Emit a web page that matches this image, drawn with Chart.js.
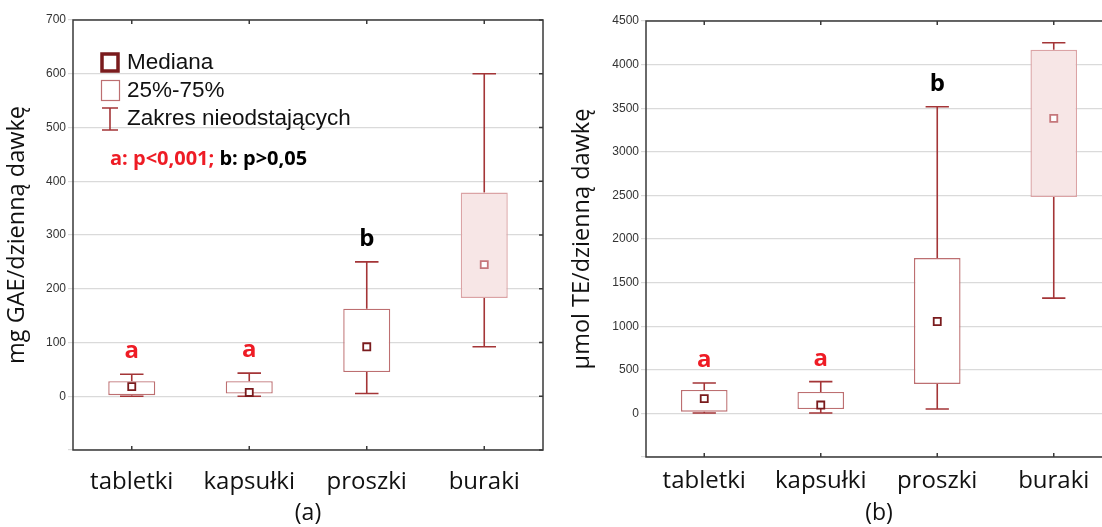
<!DOCTYPE html>
<html>
<head>
<meta charset="utf-8">
<script src="https://cdn.jsdelivr.net/npm/chart.js@4/dist/chart.umd.min.js"></script>
<style>
  html, body { margin: 0; padding: 0; background: #fff; overflow: hidden; width: 1102px; height: 527px; }
  #wrapA { position: absolute; left: 0; top: 0; }
  #wrapB { position: absolute; left: 565px; top: 0; }
</style>
</head>
<body>
<div id="wrapA"><canvas id="chartA" width="560" height="527"></canvas></div>
<div id="wrapB"><canvas id="chartB" width="555" height="527"></canvas></div>
<script>
// kategorie
const categories = ['tabletki', 'kapsułki', 'proszki', 'buraki'];
const letters = ['a', 'a', 'b', ''];

// (a) mg GAE / dzienną dawkę
const gaeMin = [0, 0, 5, 92];
const gaeQ1 = [2, 5, 45, 183];
const gaeMedian = [18, 7, 92, 245];
const gaeQ3 = [28, 28, 163, 379];
const gaeMax = [41, 43, 250, 600];

// (b) µmol TE / dzienną dawkę
const teMin = [5, 5, 50, 1322];
const teQ1 = [20, 50, 338, 2483];
const teMedian = [169, 96, 1054, 3384];
const teQ3 = [269, 246, 1782, 4169];
const teMax = [349, 364, 3517, 4250];

const legendLabels = ['Mediana', '25%-75%', 'Zakres nieodstających'];

const boxFill = ['#ffffff', '#ffffff', '#ffffff', '#f7e6e6'];
const boxLine = ['#bd6f71', '#bd6f71', '#bd6f71', '#dba3a5'];
const medLine = ['#7a1b1d', '#7a1b1d', '#7a1b1d', '#c5777b'];
const whiskerColor = '#a43537';

// wąsy + ramka + litery
const boxPlotPlugin = {
    id: 'boxPlotExtras',
    beforeDatasetsDraw(chart, args, opts) {
        const ctx = chart.ctx;
        const y = chart.scales.y;
        const meta = chart.getDatasetMeta(0);
        ctx.save();
        ctx.strokeStyle = whiskerColor;
        ctx.lineWidth = 1.6;
        meta.data.forEach((bar, i) => {
            const x = bar.x;
            const cap = bar.width * 0.25;
            const yMax = y.getPixelForValue(opts.max[i]);
            const yMin = y.getPixelForValue(opts.min[i]);
            const yQ3 = y.getPixelForValue(opts.q3[i]);
            const yQ1 = y.getPixelForValue(opts.q1[i]);
            ctx.beginPath();
            ctx.moveTo(x, yMax); ctx.lineTo(x, yQ3);
            ctx.moveTo(x, yQ1); ctx.lineTo(x, yMin);
            ctx.moveTo(x - cap, yMax); ctx.lineTo(x + cap, yMax);
            ctx.moveTo(x - cap, yMin); ctx.lineTo(x + cap, yMin);
            ctx.stroke();
        });
        ctx.restore();
    },
    afterDraw(chart, args, opts) {
        const ctx = chart.ctx;
        const a = chart.chartArea;
        const y = chart.scales.y;
        const xs = chart.scales.x;
        ctx.save();
        // ramka
        ctx.strokeStyle = '#3a3a3a';
        ctx.lineWidth = 1.5;
        ctx.strokeRect(a.left, a.top, a.right - a.left, a.bottom - a.top);
        ctx.beginPath();
        xs.ticks.forEach((t, i) => {
            const px = xs.getPixelForTick(i);
            ctx.moveTo(px, a.top); ctx.lineTo(px, a.top + 4);
            ctx.moveTo(px, a.bottom); ctx.lineTo(px, a.bottom - 4);
        });
        y.ticks.forEach((t, i) => {
            const py = y.getPixelForTick(i);
            ctx.moveTo(a.right, py); ctx.lineTo(a.right - 4, py);
        });
        ctx.stroke();
        // litery istotności
        const meta = chart.getDatasetMeta(0);
        ctx.font = 'bold 24px "Open Sans"';
        ctx.textAlign = 'center';
        ctx.textBaseline = 'middle';
        meta.data.forEach((bar, i) => {
            if (!letters[i]) return;
            ctx.fillStyle = letters[i] === 'a' ? '#ee1c25' : '#000000';
            ctx.fillText(letters[i], bar.x, y.getPixelForValue(opts.max[i]) - 23);
        });
        ctx.restore();

        if (!opts.legend) return;
        // legenda
        ctx.save();
        ctx.strokeStyle = '#7a1b1d';
        ctx.lineWidth = 3.5;
        ctx.strokeRect(102, 54, 16, 17);
        ctx.strokeStyle = '#bd6f71';
        ctx.lineWidth = 1.2;
        ctx.strokeRect(101.5, 80.5, 18, 20);
        ctx.strokeStyle = whiskerColor;
        ctx.lineWidth = 1.6;
        ctx.beginPath();
        ctx.moveTo(110, 108); ctx.lineTo(110, 130);
        ctx.moveTo(102, 108); ctx.lineTo(118, 108);
        ctx.moveTo(102, 130); ctx.lineTo(118, 130);
        ctx.stroke();
        ctx.fillStyle = '#111';
        ctx.font = '22.5px "Liberation Sans"';
        ctx.textAlign = 'left';
        ctx.textBaseline = 'middle';
        legendLabels.forEach((l, i) => ctx.fillText(l, 127, 63 + i * 28));
        ctx.font = 'bold 20px "Open Sans"';
        ctx.fillStyle = '#ee1c25';
        const redText = 'a: p<0,001;';
        ctx.fillText(redText, 110, 159);
        const w = ctx.measureText(redText + ' ').width;
        ctx.fillStyle = '#000';
        ctx.fillText('b: p>0,05', 110 + w, 159);
        ctx.restore();
    }
};

function makeChart(canvas, cfg) {
    return new Chart(canvas, {
        type: 'bar',
        data: {
            labels: categories,
            datasets: [{
                order: 2,
                data: categories.map((c, i) => [cfg.q1[i], cfg.q3[i]]),
                backgroundColor: boxFill,
                borderColor: boxLine,
                borderWidth: 1.4,
                borderSkipped: false,
                barPercentage: 0.4,
                categoryPercentage: 1
            }, {
                order: 1,
                type: 'line',
                data: cfg.median,
                showLine: false,
                pointStyle: 'rect',
                pointRadius: 5,
                pointBorderWidth: 1.8,
                pointBackgroundColor: '#ffffff',
                pointBorderColor: medLine
            }]
        },
        options: {
            responsive: false,
            animation: false,
            layout: { padding: { top: cfg.top, right: cfg.right, left: 0, bottom: 0 } },
            plugins: {
                legend: { display: false },
                tooltip: { enabled: false },
                boxPlotExtras: { min: cfg.min, q1: cfg.q1, q3: cfg.q3, max: cfg.max, legend: cfg.legend }
            },
            scales: {
                x: {
                    grid: { display: false },
                    border: { display: false },
                    ticks: { color: '#111', font: { family: 'Open Sans', size: 24 }, padding: cfg.xpad },
                    title: { display: true, text: cfg.sub, color: '#111', font: { family: 'Open Sans', size: 23 }, padding: { top: 0, bottom: 0 } },
                    afterFit: s => { s.height = cfg.xh; }
                },
                y: {
                    min: cfg.yMin,
                    max: cfg.yMax,
                    ticks: {
                        stepSize: cfg.step, color: '#333', font: { family: 'Liberation Sans', size: 12 }, padding: 2,
                        callback: v => (v < 0 ? '' : String(v))
                    },
                    grid: { color: '#dadada', lineWidth: 1.2, tickLength: 5 },
                    border: { display: false },
                    title: { display: true, text: cfg.title, color: '#111', font: { family: 'Open Sans', size: 23.5 }, padding: { top: 3, bottom: 0 } },
                    afterFit: s => { s.width = cfg.yw; }
                }
            }
        },
        plugins: [boxPlotPlugin]
    });
}

makeChart(document.getElementById('chartA'), {
    min: gaeMin, q1: gaeQ1, median: gaeMedian, q3: gaeQ3, max: gaeMax,
    yMin: -100, yMax: 700, step: 100,
    title: 'mg GAE/dzienną dawkę', sub: '(a)',
    top: 20, right: 17, xh: 77, yw: 73, xpad: 10, legend: true
});

makeChart(document.getElementById('chartB'), {
    min: teMin, q1: teQ1, median: teMedian, q3: teQ3, max: teMax,
    yMin: -500, yMax: 4500, step: 500,
    title: 'µmol TE/dzienną dawkę', sub: '(b)',
    top: 21, right: 8, xh: 70, yw: 81, xpad: 2, legend: false
});
</script>
</body>
</html>
